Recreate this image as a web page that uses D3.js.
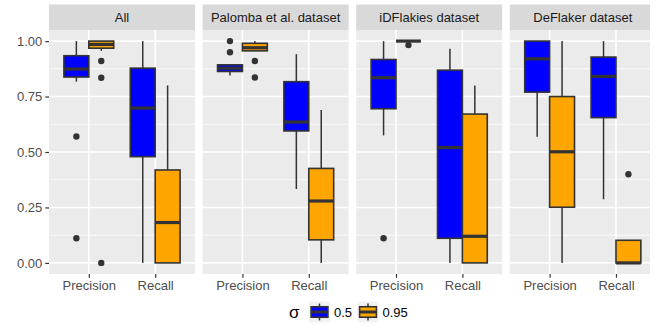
<!DOCTYPE html>
<html>
<head>
<meta charset="utf-8">
<script src="https://cdn.jsdelivr.net/npm/d3@7"></script>
<style>
  body { margin: 0; background: #fff; }
  text { font-family: "Liberation Sans", Arial, sans-serif; }
</style>
</head>
<body>
<svg id="chart"></svg>
<script>
// facets, categories and groups
var panels = ["All", "Palomba et al. dataset", "iDFlakies dataset", "DeFlaker dataset"];
var metrics = ["Precision", "Recall"];
var sigmas = ["0.5", "0.95"];
var fills = ["#0000FF", "#FFA500"];
var yTicks = [0, 0.25, 0.5, 0.75, 1];
var yMinor = [0.125, 0.375, 0.625, 0.875];

// box stats: [lower whisker, q1, median, q3, upper whisker]
// order: Precision/0.5, Precision/0.95, Recall/0.5, Recall/0.95
var boxesAll      = [[0.817, 0.838, 0.874, 0.934, 1.0], [0.956, 0.968, 0.985, 1.0, 1.0],
                     [0.0, 0.479, 0.698, 0.878, 1.0],   [0.0, 0.0, 0.182, 0.419, 0.80]];
var boxesPalomba  = [[0.845, 0.863, 0.878, 0.893, 0.893], [0.956, 0.956, 0.97, 0.99, 1.0],
                     [0.333, 0.595, 0.635, 0.817, 0.941], [0.0, 0.104, 0.279, 0.426, 0.689]];
var boxesIDFlakies = [[0.575, 0.695, 0.835, 0.917, 1.0], [1.0, 1.0, 1.0, 1.0, 1.0],
                     [0.0, 0.111, 0.52, 0.869, 0.965],  [0.0, 0.0, 0.12, 0.671, 0.80]];
var boxesDeFlaker = [[0.569, 0.77, 0.92, 1.0, 1.0],     [0.0, 0.251, 0.501, 0.75, 1.0],
                     [0.287, 0.655, 0.841, 0.928, 1.0], [0.0, 0.0, 0.0, 0.102, 0.102]];

// outliers: [metric, sigma, value]
var outliersAll      = [["Precision", "0.5", 0.57], ["Precision", "0.5", 0.111],
                        ["Precision", "0.95", 0.91], ["Precision", "0.95", 0.835], ["Precision", "0.95", 0.0]];
var outliersPalomba  = [["Precision", "0.5", 1.0], ["Precision", "0.5", 0.95],
                        ["Precision", "0.95", 0.91], ["Precision", "0.95", 0.836]];
var outliersIDFlakies = [["Precision", "0.5", 0.111], ["Precision", "0.95", 0.982]];
var outliersDeFlaker = [["Recall", "0.95", 0.40]];

var allBoxes = [boxesAll, boxesPalomba, boxesIDFlakies, boxesDeFlaker];
var allOutliers = [outliersAll, outliersPalomba, outliersIDFlakies, outliersDeFlaker];

var width = 656, height = 326;
var plotLeft = 49, plotRight = 650, panelW = 146, pitch = 153.6;
var stripTop = 4.5, plotTop = 30, plotBottom = 274;

var svg = d3.select("#chart")
  .attr("width", width)
  .attr("height", height);

var y = d3.scaleLinear().domain([-0.05, 1.05]).range([plotBottom, plotTop]);
var u = panelW / 2.2;
var xm = d3.scalePoint().domain(metrics).range([0.6 * u, 1.6 * u]);
var xs = d3.scaleBand().domain(sigmas).range([-0.375 * u, 0.375 * u]);
var color = d3.scaleOrdinal().domain(sigmas).range(fills);

var outline = "#333333";

panels.forEach(function(name, i) {
  var left = plotLeft + i * pitch;
  var w = Math.min(panelW, plotRight - left);
  var g = svg.append("g").attr("transform", "translate(" + left + ",0)");

  // strip
  g.append("rect").attr("x", 0).attr("y", stripTop).attr("width", w)
    .attr("height", plotTop - stripTop).attr("fill", "#D9D9D9");
  g.append("text").attr("x", panelW / 2).attr("y", (stripTop + plotTop) / 2)
    .attr("dy", "0.35em").attr("text-anchor", "middle")
    .style("font-size", "13px").attr("fill", "#1A1A1A").text(name);

  // panel background and grid
  g.append("rect").attr("x", 0).attr("y", plotTop).attr("width", w)
    .attr("height", plotBottom - plotTop).attr("fill", "#EBEBEB");
  g.selectAll(".minor").data(yMinor).enter().append("line")
    .attr("x1", 0).attr("x2", w).attr("y1", y).attr("y2", y)
    .attr("stroke", "#fff").attr("stroke-width", 0.8);
  g.selectAll(".major").data(yTicks).enter().append("line")
    .attr("x1", 0).attr("x2", w).attr("y1", y).attr("y2", y)
    .attr("stroke", "#fff").attr("stroke-width", 1.6);
  g.selectAll(".vmajor").data(metrics).enter().append("line")
    .attr("x1", xm).attr("x2", xm).attr("y1", plotTop).attr("y2", plotBottom)
    .attr("stroke", "#fff").attr("stroke-width", 1.6);

  // boxes
  var rows = [];
  metrics.forEach(function(m, mi) {
    sigmas.forEach(function(s, si) {
      rows.push({m: m, s: s, v: allBoxes[i][mi * 2 + si]});
    });
  });

  var bg = g.selectAll(".box").data(rows).enter().append("g");
  var cx = function(d) { return xm(d.m) + xs(d.s) + xs.bandwidth() / 2; };

  bg.append("line")
    .attr("x1", cx).attr("x2", cx)
    .attr("y1", function(d) { return y(d.v[4]); })
    .attr("y2", function(d) { return y(d.v[3]); })
    .attr("stroke", outline).attr("stroke-width", 1.5);
  bg.append("line")
    .attr("x1", cx).attr("x2", cx)
    .attr("y1", function(d) { return y(d.v[1]); })
    .attr("y2", function(d) { return y(d.v[0]); })
    .attr("stroke", outline).attr("stroke-width", 1.5);
  bg.append("rect")
    .attr("x", function(d) { return xm(d.m) + xs(d.s); })
    .attr("width", xs.bandwidth())
    .attr("y", function(d) { return y(d.v[3]); })
    .attr("height", function(d) { return y(d.v[1]) - y(d.v[3]); })
    .attr("fill", function(d) { return color(d.s); })
    .attr("stroke", outline).attr("stroke-width", 1.6);
  bg.append("line")
    .attr("x1", function(d) { return xm(d.m) + xs(d.s); })
    .attr("x2", function(d) { return xm(d.m) + xs(d.s) + xs.bandwidth(); })
    .attr("y1", function(d) { return y(d.v[2]); })
    .attr("y2", function(d) { return y(d.v[2]); })
    .attr("stroke", outline).attr("stroke-width", 3.2);

  // outliers
  g.selectAll(".out").data(allOutliers[i]).enter().append("circle")
    .attr("cx", function(d) { return xm(d[0]) + xs(d[1]) + xs.bandwidth() / 2; })
    .attr("cy", function(d) { return y(d[2]); })
    .attr("r", 3.2).attr("fill", outline);

  // x axis
  var xAxis = g.append("g").attr("transform", "translate(0," + plotBottom + ")")
    .call(d3.axisBottom(xm).tickSize(3.7).tickPadding(3));
  xAxis.select(".domain").remove();
  xAxis.selectAll("line").attr("stroke", outline).attr("stroke-width", 1.2);
  xAxis.selectAll("text").style("font-size", "13px").attr("fill", "#4D4D4D")
    .style("font-family", "'Liberation Sans', Arial, sans-serif");
});

// y axis
var yAxis = svg.append("g").attr("transform", "translate(" + plotLeft + ",0)")
  .call(d3.axisLeft(y).tickValues(yTicks).tickFormat(d3.format(".2f")).tickSize(3.7).tickPadding(3));
yAxis.select(".domain").remove();
yAxis.selectAll("line").attr("stroke", outline).attr("stroke-width", 1.2);
yAxis.selectAll("text").style("font-size", "13px").attr("fill", "#4D4D4D")
  .style("font-family", "'Liberation Sans', Arial, sans-serif");

// legend
var legendY = 312, keySize = 21;
var legend = svg.append("g");
legend.append("text").attr("x", 289).attr("y", legendY).attr("dy", "0.35em")
  .style("font-size", "17px").attr("fill", "#000").text("σ");
var keyX = [309, 357.5];
sigmas.forEach(function(s, si) {
  var kx = keyX[si], ky = legendY - keySize / 2;
  var k = legend.append("g").attr("transform", "translate(" + kx + "," + ky + ")");
  k.append("rect").attr("width", keySize).attr("height", keySize).attr("fill", "#F2F2F2");
  k.append("line").attr("x1", keySize / 2).attr("x2", keySize / 2)
    .attr("y1", keySize * 0.1).attr("y2", keySize * 0.9)
    .attr("stroke", outline).attr("stroke-width", 1.5);
  k.append("rect").attr("x", keySize * 0.1).attr("y", keySize * 0.25)
    .attr("width", keySize * 0.8).attr("height", keySize * 0.5)
    .attr("fill", color(s)).attr("stroke", outline).attr("stroke-width", 1.6);
  k.append("line").attr("x1", keySize * 0.1).attr("x2", keySize * 0.9)
    .attr("y1", keySize / 2).attr("y2", keySize / 2)
    .attr("stroke", outline).attr("stroke-width", 3);
  legend.append("text").attr("x", kx + keySize + 4).attr("y", legendY).attr("dy", "0.35em")
    .style("font-size", "13px").attr("fill", "#000").text(s);
});
</script>
</body>
</html>
